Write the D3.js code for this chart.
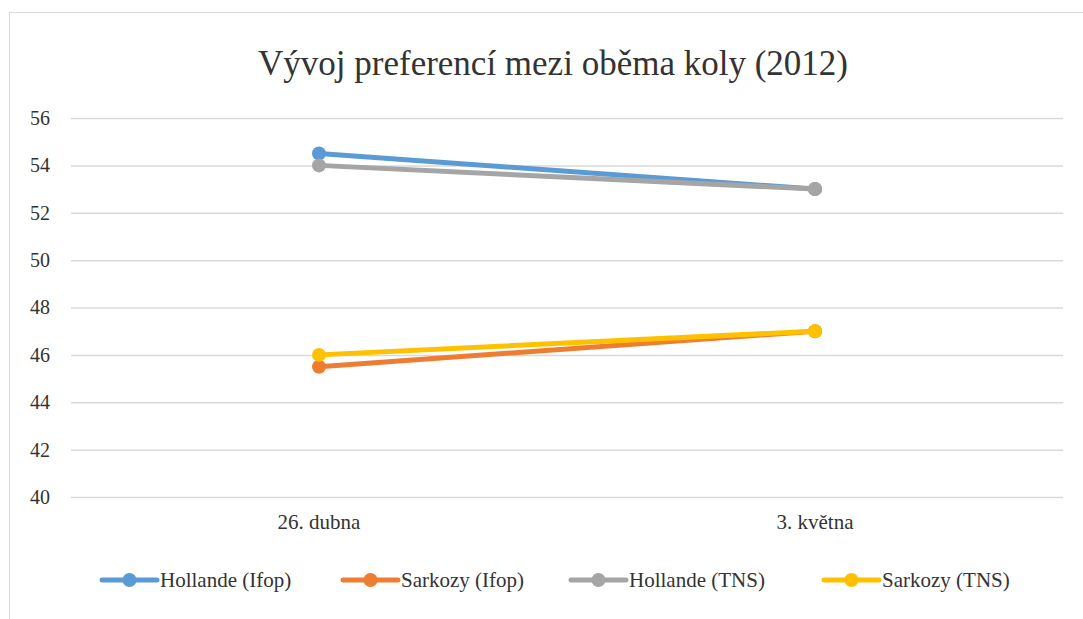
<!DOCTYPE html>
<html>
<head>
<meta charset="utf-8">
<script src="https://cdn.jsdelivr.net/npm/d3@7"></script>
<style>
  body { margin: 0; background: #fff; }
  svg text { font-family: "Liberation Serif", "Tinos", "Noto Serif", "DejaVu Serif", "Liberation Sans", serif !important; fill: #333333; }
</style>
</head>
<body>
<div id="chart"></div>
<script>
// data
const categories = ["26. dubna", "3. května"]
const seriesNames = ["Hollande (Ifop)", "Sarkozy (Ifop)", "Hollande (TNS)", "Sarkozy (TNS)"]
const hollandeIfop = [54.5, 53]
const sarkozyIfop = [45.5, 47]
const hollandeTns = [54, 53]
const sarkozyTns = [46, 47]
const yTicks = [40, 42, 44, 46, 48, 50, 52, 54, 56]
const colors = ["#5B9BD5", "#ED7D31", "#A5A5A5", "#FFC000"]

const series = [hollandeIfop, sarkozyIfop, hollandeTns, sarkozyTns]
  .map((vals, i) => ({ name: seriesNames[i], values: vals, color: colors[i] }))

const W = 1083, H = 619
const margin = {top: 118, right: 20, bottom: 122, left: 71}
const width = 1063 - margin.left
const height = 497 - margin.top

const svg = d3.select("#chart").append("svg")
  .attr("width", W).attr("height", H)

// chart area outline
svg.append("rect")
  .attr("x", 9.5).attr("y", 12.5)
  .attr("width", W).attr("height", H)
  .attr("fill", "none").attr("stroke", "#D9D9D9")

svg.append("text")
  .attr("x", 553).attr("y", 75)
  .attr("text-anchor", "middle")
  .style("font-size", "35px")
  .text("Vývoj preferencí mezi oběma koly (2012)")

const g = svg.append("g")
  .attr("transform", "translate(" + margin.left + "," + margin.top + ")")

const x = d3.scaleBand().domain(categories).range([0, width])
const y = d3.scaleLinear().domain([40, 56]).range([height, 0])

// gridlines + y labels
const yAxis = g.append("g")
  .call(d3.axisLeft(y).tickValues(yTicks).tickSize(-width).tickPadding(21))
yAxis.select(".domain").remove()
yAxis.selectAll(".tick line").attr("stroke", "#D9D9D9").attr("stroke-width", 1.5)
yAxis.selectAll(".tick text").style("font-size", "20px")

// x labels
const xAxis = g.append("g")
  .attr("transform", "translate(0," + height + ")")
  .call(d3.axisBottom(x).tickSize(0).tickPadding(17))
xAxis.select(".domain").remove()
xAxis.selectAll(".tick text").style("font-size", "21px")

const cx = c => x(c) + x.bandwidth() / 2
const line = d3.line()
  .x((d, i) => cx(categories[i]))
  .y(d => y(d))

series.forEach(s => {
  g.append("path")
    .datum(s.values)
    .attr("d", line)
    .attr("fill", "none")
    .attr("stroke", s.color)
    .attr("stroke-width", 5)
    .attr("stroke-linecap", "round")
  g.selectAll(null)
    .data(s.values)
    .enter().append("circle")
    .attr("cx", (d, i) => cx(categories[i]))
    .attr("cy", d => y(d))
    .attr("r", 7)
    .attr("fill", s.color)
})

// legend
const legendX = [102, 343, 571, 824]
const legend = svg.append("g").attr("transform", "translate(0,580)")
series.forEach((s, i) => {
  const item = legend.append("g").attr("transform", "translate(" + legendX[i] + ",0)")
  item.append("line")
    .attr("x1", 0).attr("x2", 55)
    .attr("stroke", s.color).attr("stroke-width", 5).attr("stroke-linecap", "round")
  item.append("circle").attr("cx", 27.5).attr("r", 7).attr("fill", s.color)
  item.append("text")
    .attr("x", 58).attr("y", 7)
    .style("font-size", "21px")
    .text(s.name)
})
</script>
</body>
</html>
